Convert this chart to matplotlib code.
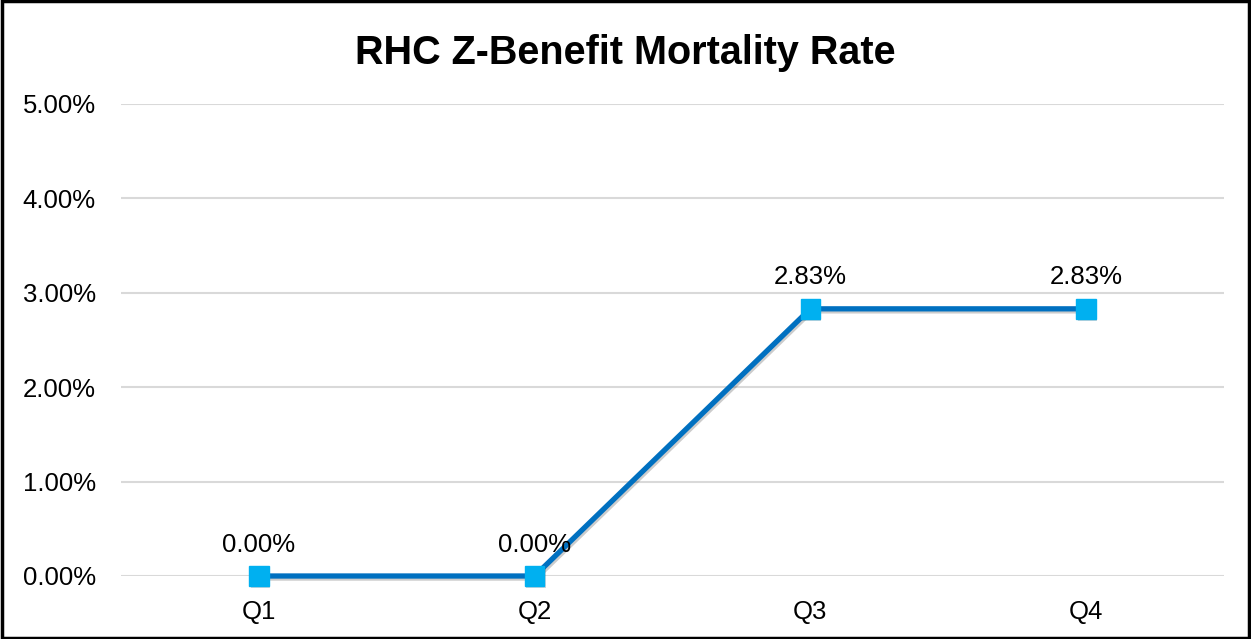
import matplotlib
matplotlib.use('Agg')
import matplotlib.pyplot as plt
import matplotlib.patheffects as pe
from matplotlib.ticker import FuncFormatter
from matplotlib.patches import Rectangle

# data
quarters = ['Q1', 'Q2', 'Q3', 'Q4']
mortality = [0.0, 0.0, 2.83, 2.83]   # percent
yticks = [0, 1, 2, 3, 4, 5]

plt.rcParams['font.family'] = ['Liberation Sans', 'DejaVu Sans']

fig = plt.figure(figsize=(12.51, 6.39), dpi=100)
ax = fig.add_axes([0.0967, 0.0986, 0.8817, 0.7387])

xpos = [i + 0.5 for i in range(len(quarters))]
shadow = [pe.SimpleLineShadow(offset=(1, -1.5), shadow_color='k', alpha=0.2), pe.Normal()]
ax.plot(xpos, mortality, color='#0070C0', lw=3.8, zorder=3, path_effects=shadow,
        clip_on=False)
ax.plot(xpos, mortality, ls='none', marker='s', ms=14, color='#00B0F0',
        mec='#00B0F0', zorder=4, clip_on=False,
        path_effects=[pe.SimplePatchShadow(offset=(1, -1.5), alpha=0.2), pe.Normal()])

for x, v in zip(xpos, mortality):
    ax.annotate('%.2f%%' % v, (x, v), xytext=(0, 14), textcoords='offset points',
                ha='center', va='bottom', fontsize=18.5, zorder=5)

ax.set_xlim(0, 4)
ax.set_ylim(0, 5)
ax.set_xticks(xpos)
ax.set_xticklabels(quarters)
ax.set_yticks(yticks)
ax.yaxis.set_major_formatter(FuncFormatter(lambda v, p: '%.2f%%' % v))
ax.tick_params(length=0, labelsize=18.5)
ax.tick_params(axis='y', pad=18)
ax.tick_params(axis='x', pad=17)
ax.grid(axis='y', color='#D9D9D9', lw=1.5)
ax.set_axisbelow(True)
for s in ax.spines.values():
    s.set_visible(False)

fig.text(0.5, 1 - 53 / 639, 'RHC Z-Benefit Mortality Rate', ha='center', va='center',
         fontsize=28.5, fontweight='bold')

fig.patches.append(Rectangle((0.0012, 0.002), 0.9976, 0.996, transform=fig.transFigure,
                             fill=False, edgecolor='black', lw=2.5))

plt.savefig('out.png', dpi=100)
